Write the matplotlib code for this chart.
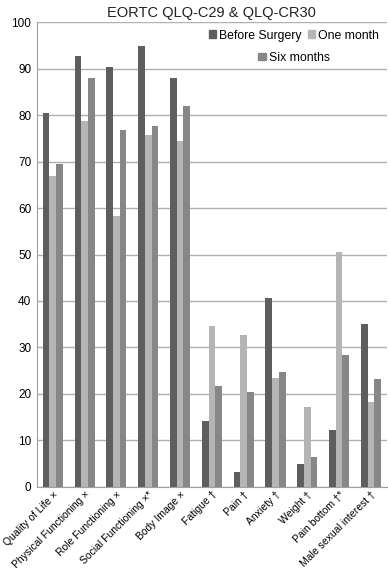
import numpy as np
import matplotlib
matplotlib.use("Agg")
import matplotlib.pyplot as plt
from matplotlib.patches import Patch

# ─── Data ───────────────────────────────────────────────────
CATEGORIES = ["Quality of Life \u00d7", "Physical Functioning \u00d7", "Role Functioning \u00d7",
              "Social Functioning \u00d7*", "Body Image \u00d7", "Fatigue \u2020", "Pain \u2020",
              "Anxiety \u2020", "Weight \u2020", "Pain bottom \u2020*", "Male sexual interest \u2020"]
BEFORE_SURGERY = [80.4, 92.8, 90.4, 94.9, 88.1, 14.1, 3.2, 40.7, 5.0, 12.3, 35.0]
ONE_MONTH      = [66.8, 78.7, 58.2, 75.7, 74.5, 34.6, 32.7, 23.4, 17.2, 50.6, 18.3]
SIX_MONTHS     = [69.4, 88.0, 76.9, 77.6, 81.9, 21.8, 20.5, 24.7, 6.4, 28.3, 23.3]
SERIES_NAMES   = ["Before Surgery", "One month", "Six months"]
Y_TICKS        = [0, 10, 20, 30, 40, 50, 60, 70, 80, 90, 100]

plt.rcParams["font.family"] = ["Liberation Sans", "DejaVu Sans"]

colors = ["#5e5e5e", "#b5b5b5", "#878787"]
fig = plt.figure(figsize=(3.88, 5.70), dpi=100)
ax = fig.add_axes([0.095, 0.146, 0.902, 0.815])

x = np.arange(len(CATEGORIES))
w = 0.21
for i, (vals, c) in enumerate(zip([BEFORE_SURGERY, ONE_MONTH, SIX_MONTHS], colors)):
    ax.bar(x + (i - 1) * w, vals, width=w, color=c, zorder=2)

ax.set_xlim(-0.5, len(CATEGORIES) - 0.5)
ax.set_ylim(0, 100)
ax.set_yticks(Y_TICKS)
ax.tick_params(axis="y", length=0, labelsize=8.5, pad=4)
ax.tick_params(axis="x", length=0, labelsize=7.5, pad=2)
ax.set_xticks(x)
ax.set_xticklabels(CATEGORIES, rotation=45, ha="right", rotation_mode="anchor")
ax.yaxis.grid(True, color="#b0b0b0", linewidth=1, zorder=0)
ax.set_axisbelow(True)
for s in ["top", "right"]:
    ax.spines[s].set_visible(False)
for s in ["left", "bottom"]:
    ax.spines[s].set_color("#a0a0a0")

ax.set_title("EORTC QLQ-C29 & QLQ-CR30", fontsize=10.5, pad=4, color="#222222")

handles = [Patch(color=c) for c in colors]
leg1 = ax.legend(handles[:2], SERIES_NAMES[:2], ncol=2, loc="upper center",
                 bbox_to_anchor=(0.735, 1.0), frameon=False, fontsize=8.8,
                 handlelength=0.6, handleheight=0.6, handletextpad=0.25,
                 columnspacing=0.5, borderaxespad=0.2)
ax.add_artist(leg1)
ax.legend(handles[2:], SERIES_NAMES[2:], loc="upper center",
          bbox_to_anchor=(0.735, 0.952), frameon=False, fontsize=8.8,
          handlelength=0.6, handleheight=0.6, handletextpad=0.25, borderaxespad=0.2)

fig.savefig("out.png", dpi=100)
